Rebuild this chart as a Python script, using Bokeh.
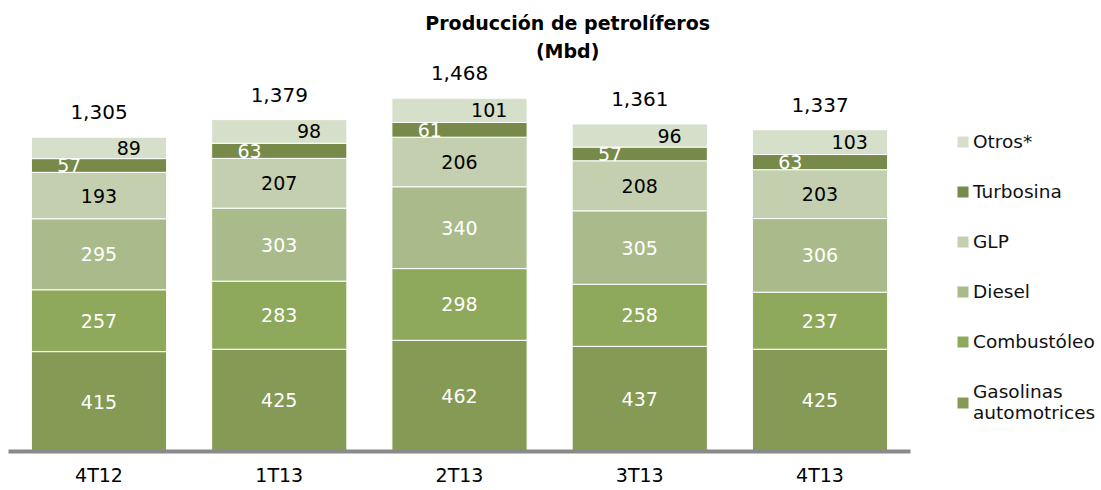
import numpy as np
from bokeh.plotting import figure
from bokeh.models import ColumnDataSource, Range1d, Legend, LegendItem, Label
from bokeh.core.properties import value
from bokeh.embed import file_html
from bokeh.resources import INLINE

# ---- data ----
categories = ["4T12", "1T13", "2T13", "3T13", "4T13"]
gasolinas = [415, 425, 462, 437, 425]
combustoleo = [257, 283, 298, 258, 237]
diesel = [295, 303, 340, 305, 306]
glp = [193, 207, 206, 208, 203]
turbosina = [57, 63, 61, 57, 63]
otros = [89, 98, 101, 96, 103]
totales = ["1,305", "1,379", "1,468", "1,361", "1,337"]

series_names = ["Gasolinas\nautomotrices", "Combustóleo", "Diesel", "GLP", "Turbosina", "Otros*"]
series_keys = ["gasolinas", "combustoleo", "diesel", "glp", "turbosina", "otros"]
series_vals = [gasolinas, combustoleo, diesel, glp, turbosina, otros]
colors = ["#849a55", "#8fa95c", "#aabb8b", "#c4cfaf", "#778a4a", "#d6dfc9"]
label_colors = ["white", "white", "white", "black", "white", "black"]
label_dx = [0, 0, 0, 0, -0.165, 0.165]

FONT = "DejaVu Sans"

x = np.arange(len(categories))
data = {"x": x}
for k, v in zip(series_keys, series_vals):
    data[k] = v
src = ColumnDataSource(data)

p = figure(width=1101, height=490, output_backend="svg", toolbar_location=None,
           x_range=Range1d(-0.5465, 5.5617), y_range=Range1d(0, 1874),
           min_border_left=0, min_border_right=0, min_border_top=0, min_border_bottom=39)
p.outline_line_color = None
p.grid.visible = False
p.yaxis.visible = False
p.background_fill_color = "white"
p.border_fill_color = "white"

renderers = p.vbar_stack(series_keys, x="x", width=0.75, color=colors,
                         line_color="white", line_width=1, source=src)

# segment labels
bottom = np.zeros(len(categories))
for vals, lc, dx in zip(series_vals, label_colors, label_dx):
    vals = np.array(vals, dtype=float)
    mid = bottom + vals / 2
    ls = ColumnDataSource(dict(x=x + dx, y=mid, t=[str(int(v)) for v in vals]))
    p.text(x="x", y="y", text="t", source=ls, text_align="center",
           text_baseline="middle", text_color=lc, text_font=value(FONT),
           text_font_size="19px")
    bottom = bottom + vals

# totals
ts = ColumnDataSource(dict(x=x, y=bottom, t=totales))
p.text(x="x", y="y", text="t", source=ts, text_align="center", text_baseline="middle",
       y_offset=-25, text_color="black", text_font=value(FONT), text_font_size="20px")

# x axis
ax = p.xaxis[0]
ax.ticker = list(x)
ax.major_label_overrides = {int(i): c for i, c in zip(x, categories)}
ax.bounds = (-0.502, 4.502)
ax.axis_line_width = 4
ax.axis_line_color = "#898989"
ax.major_tick_line_color = None
ax.minor_tick_line_color = None
ax.major_label_text_font = FONT
ax.major_label_text_font_size = "19px"
ax.major_label_text_color = "black"
ax.major_label_standoff = 6

# title
p.add_layout(Label(x=2.6, y=1722, text="Producción de petrolíferos\n(Mbd)",
                   text_align="center", text_baseline="middle",
                   text_font=FONT, text_font_size="19px", text_font_style="bold",
                   text_color="black", text_line_height=1.3))

# legend
items = [LegendItem(label=n, renderers=[r]) for n, r in zip(series_names, renderers)]
items = items[::-1]
legend = Legend(items=items, location=(955, 28), glyph_width=15, glyph_height=15,
                label_standoff=3, spacing=29, padding=0, margin=0,
                border_line_color=None, background_fill_alpha=0,
                label_text_font=FONT, label_text_font_size="18.5px",
                label_text_color="#111111", label_height=20)
p.add_layout(legend)

open("out.html", "w").write(file_html(p, INLINE))
